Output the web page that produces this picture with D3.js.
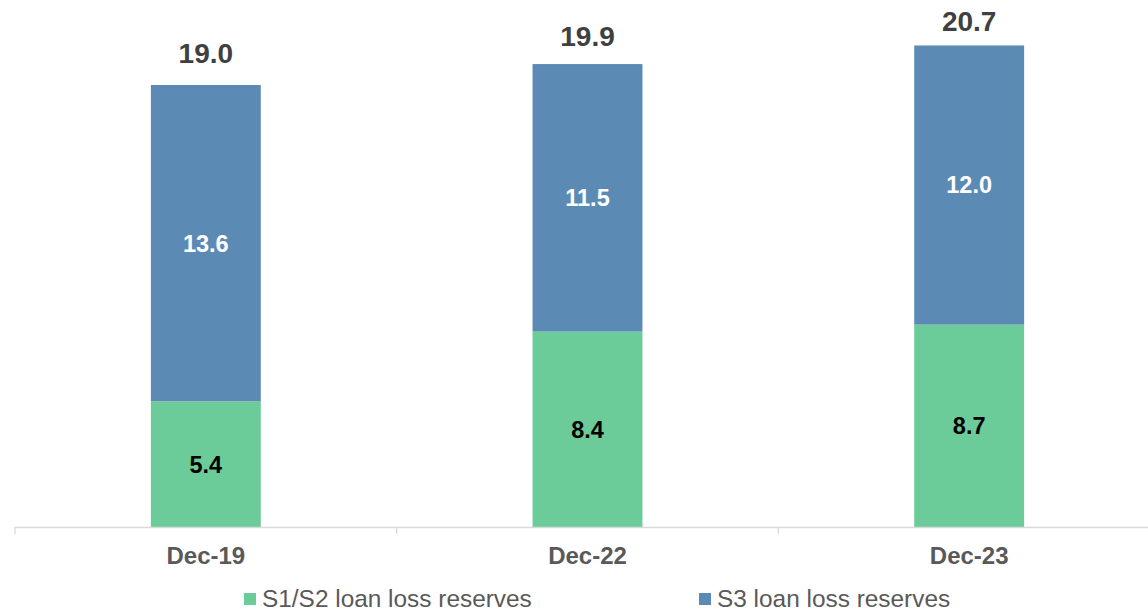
<!DOCTYPE html>
<html><head><meta charset="utf-8">
<script src="https://cdn.jsdelivr.net/npm/d3@7"></script>
<style>body{margin:0;background:#fff;} svg{display:block;font-family:"Liberation Sans",Arial,sans-serif;}</style>
</head><body>
<svg id="c" width="1148" height="612"></svg>
<script>
const categories = ["Dec-19", "Dec-22", "Dec-23"];
const s1s2 = [5.4, 8.4, 8.7];
const s3 = [13.6, 11.5, 12.0];
const totals = [19.0, 19.9, 20.7];
const seriesNames = ["S1/S2 loan loss reserves", "S3 loan loss reserves"];
const colors = ["#6ccc99", "#5b8bb5"];

const svg = d3.select("#c");
const x = d3.scaleBand().domain(categories).range([15, 1160]).paddingInner(0.712).paddingOuter(0.356);
const y = d3.scaleLinear().domain([0, 19.0]).range([527, 85]);

const rows = categories.map((c, i) => ({cat: c, a: s1s2[i], b: s3[i], t: totals[i]}));

// bars
const g = svg.append("g");
g.selectAll(".a").data(rows).join("rect")
  .attr("x", d => x(d.cat)).attr("width", x.bandwidth())
  .attr("y", d => y(d.a)).attr("height", d => y(0) - y(d.a))
  .attr("fill", colors[0]);
g.selectAll(".b").data(rows).join("rect")
  .attr("x", d => x(d.cat)).attr("width", x.bandwidth())
  .attr("y", d => y(d.a + d.b)).attr("height", d => y(d.a) - y(d.a + d.b))
  .attr("fill", colors[1]);

// axis
const ax = svg.append("g");
ax.append("line").attr("x1", 15).attr("x2", 1160).attr("y1", 527.5).attr("y2", 527.5)
  .attr("stroke", "#d9d9d9").attr("stroke-width", 1.3);
const tickX = [0,1,2,3].map(i => 15 + i * x.step());
ax.selectAll(".t").data(tickX).join("line")
  .attr("x1", d => d).attr("x2", d => d).attr("y1", 527).attr("y2", 534)
  .attr("stroke", "#d9d9d9").attr("stroke-width", 1.3);
ax.selectAll(".l").data(categories).join("text")
  .attr("x", d => x(d) + x.bandwidth()/2).attr("y", 564)
  .attr("text-anchor", "middle").attr("font-size", 24).attr("font-weight", "bold")
  .attr("fill", "#595959").text(d => d);

// inner labels
g.selectAll(".la").data(rows).join("text")
  .attr("x", d => x(d.cat) + x.bandwidth()/2).attr("y", d => (y(0) + y(d.a))/2)
  .attr("dy", "0.36em").attr("text-anchor", "middle").attr("font-size", 23.5).attr("font-weight", "bold")
  .attr("fill", "#000").text(d => d.a.toFixed(1));
g.selectAll(".lb").data(rows).join("text")
  .attr("x", d => x(d.cat) + x.bandwidth()/2).attr("y", d => (y(d.a) + y(d.a + d.b))/2)
  .attr("dy", "0.36em").attr("text-anchor", "middle").attr("font-size", 23.5).attr("font-weight", "bold")
  .attr("fill", "#fff").text(d => d.b.toFixed(1));
g.selectAll(".lt").data(rows).join("text")
  .attr("x", d => x(d.cat) + x.bandwidth()/2).attr("y", d => 0.8 * y(d.t) - 5)
  .attr("text-anchor", "middle").attr("font-size", 28).attr("font-weight", "bold")
  .attr("fill", "#404040").text(d => d.t.toFixed(1));

// legend
const legX = [244, 699];
const lg = svg.append("g");
seriesNames.forEach((n, i) => {
  lg.append("rect").attr("x", legX[i]).attr("y", 593).attr("width", 12).attr("height", 12).attr("fill", colors[i]);
  lg.append("text").attr("x", legX[i] + 18).attr("y", 607).attr("font-size", 24.4)
    .attr("fill", "#595959").text(n);
});
</script>
</body></html>
